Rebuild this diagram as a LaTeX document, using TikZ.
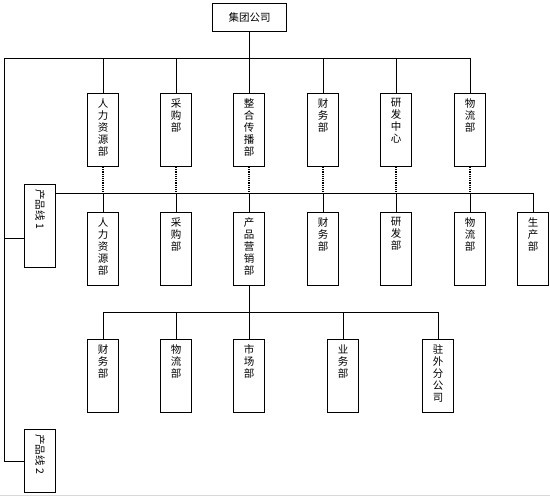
\documentclass[tikz,border=0pt]{standalone}
\usepackage{fontspec}
\newfontfamily\cjk{Noto Sans CJK SC}
\usepackage{graphicx}

% vertical text box: height, text
\newcommand{\colbox}[2]{\parbox[t][#1pt][t]{31pt}{\centering\vspace*{5pt}#2}}

\tikzset{
  box/.style={draw, line width=1pt, inner sep=0pt, anchor=north west, font=\cjk\fontsize{10.5}{12}\selectfont},
  link/.style={line width=0.8pt},
  dots/.style={line width=1.2pt, densely dotted}
}

\begin{document}
\begin{tikzpicture}[x=1pt, y=-1pt]
\useasboundingbox (0,0) rectangle (550,497);

% group
\node[box, minimum width=74pt, minimum height=28pt] (grp) at (212,3) {集团公司};

% first level departments
\node[box] (hrA)  at (87,93)  {\colbox{73}{人\\力\\资\\源\\部}};
\node[box] (purA) at (160,93) {\colbox{73}{采\\购\\部}};
\node[box] (ipr)  at (233,93) {\colbox{73}{整\\合\\传\\播\\部}};
\node[box] (finA) at (307,93) {\colbox{73}{财\\务\\部}};
\node[box] (rdA)  at (380,93) {\colbox{73}{研\\发\\中\\心}};
\node[box] (logA) at (454,93) {\colbox{73}{物\\流\\部}};

% product lines
\node[box] (plA) at (24,184) {\colbox{83}{\rotatebox{-90}{产品线 1}}};
\node[box] (plB) at (24,429) {\colbox{63}{\rotatebox{-90}{产品线 2}}};

% product line 1 departments
\node[box] (hrB)  at (87,212)  {\colbox{73}{人\\力\\资\\源\\部}};
\node[box] (purB) at (160,212) {\colbox{73}{采\\购\\部}};
\node[box] (mkt)  at (233,212) {\colbox{73}{产\\品\\营\\销\\部}};
\node[box] (finB) at (307,212) {\colbox{73}{财\\务\\部}};
\node[box] (rdB)  at (380,212) {\colbox{73}{研\\发\\部}};
\node[box] (logB) at (454,212) {\colbox{73}{物\\流\\部}};
\node[box] (prod) at (517,212) {\colbox{73}{生\\产\\部}};

% marketing departments
\node[box] (finC)   at (87,339)  {\colbox{73}{财\\务\\部}};
\node[box] (logC)   at (160,339) {\colbox{73}{物\\流\\部}};
\node[box] (mart)   at (233,339) {\colbox{73}{市\\场\\部}};
\node[box] (biz)    at (327,339) {\colbox{73}{业\\务\\部}};
\node[box] (branch) at (422,339) {\colbox{73}{驻\\外\\分\\公\\司}};

\coordinate (trunk) at (4,58);
\coordinate (busB) at (55,193);
\coordinate (busC) at (0,312);

% top level
\draw[link] (grp.south) -- (grp.south |- trunk);
\draw[link] (trunk) -- (logA.north |- trunk);
\foreach \n in {hrA,purA,ipr,finA,rdA,logA}
  \draw[link] (\n.north) -- (\n.north |- trunk);
\draw[link] (trunk) |- (plB.west);
\draw[link] ([yshift=-12pt]plA.west -| trunk) -- ([yshift=-12pt]plA.west);

% product line 1
\draw[link] (busB) -| (prod.north);
\foreach \n in {hrB,purB,mkt,finB,rdB,logB}
  \draw[link] (\n.north) -- (\n.north |- busB);
\foreach \n in {hrA,purA,ipr,finA,rdA,logA}
  \draw[dots] (\n.south) -- (\n.south |- busB);

% marketing
\draw[link] (mkt.south) -- (mkt.south |- busC);
\draw[link] (finC.north) -- (finC.north |- busC) -- (branch.north |- busC) -- (branch.north);
\foreach \n in {logC,mart,biz}
  \draw[link] (\n.north) -- (\n.north |- busC);

\draw[gray!30, line width=1pt] (0,495.5) -- (550,495.5);
\end{tikzpicture}
\end{document}
